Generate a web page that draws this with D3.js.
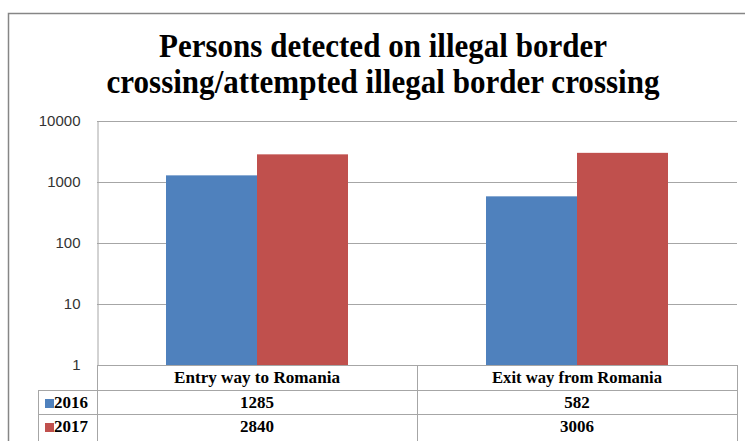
<!DOCTYPE html>
<html>
<head>
<meta charset="utf-8">
<script src="https://cdn.jsdelivr.net/npm/d3@7"></script>
<style>
    body { margin: 0; background: #fff; }
    svg { display: block; }
</style>
</head>
<body>
<div id="chart"></div>
<script>
// chart data
const titleLines = ["Persons detected on illegal border", "crossing/attempted illegal border crossing"];
const categories = ["Entry way to Romania", "Exit way from Romania"];
const seriesNames = ["2016", "2017"];
const values2016 = [1285, 582];
const values2017 = [2840, 3006];
const yTicks = [1, 10, 100, 1000, 10000];

const colors = { "2016": "#4F81BD", "2017": "#C0504D" };
const series = [
    { name: seriesNames[0], values: values2016 },
    { name: seriesNames[1], values: values2017 }
];

const width = 745, height = 441;
const plot = { left: 97, right: 737, top: 121, bottom: 365 };
const rowH = [25, 24, 27]; // header row, 2016 row, 2017 row
const tableLeft = 38;
const gridColor = "#A6A6A6";
const serifFont = "Liberation Serif";

const svg = d3.select("#chart").append("svg")
    .attr("width", width)
    .attr("height", height);

// outer chart frame (runs off the right/bottom edge)
svg.append("rect")
    .attr("x", 8.5).attr("y", 13.5)
    .attr("width", 760).attr("height", 460)
    .attr("fill", "#fff")
    .attr("stroke", "#868686")
    .attr("stroke-width", 1.5);

// title
const titleWidths = [448, 553];
svg.selectAll("text.title")
    .data(titleLines)
    .enter()
    .append("text")
    .attr("class", "title")
    .attr("x", 383)
    .attr("y", (d, i) => 57 + i * 36)
    .attr("text-anchor", "middle")
    .style("font-family", serifFont)
    .style("font-weight", "bold")
    .style("font-size", "34px")
    .attr("textLength", (d, i) => titleWidths[i])
    .attr("lengthAdjust", "spacingAndGlyphs")
    .attr("fill", "#000")
    .text(d => d);

// scales
const y = d3.scaleLog()
    .domain([1, 10000])
    .range([plot.bottom, plot.top]);

const pad = 138 / 320;
const x0 = d3.scaleBand()
    .domain(categories)
    .range([plot.left, plot.right])
    .paddingInner(pad)
    .paddingOuter(pad / 2);

const x1 = d3.scaleBand()
    .domain(seriesNames)
    .range([0, x0.bandwidth()]);

// gridlines
svg.append("g")
    .selectAll("line")
    .data(yTicks.slice(1))
    .enter()
    .append("line")
    .attr("x1", plot.left)
    .attr("x2", plot.right)
    .attr("y1", d => Math.round(y(d)) + 0.5)
    .attr("y2", d => Math.round(y(d)) + 0.5)
    .attr("stroke", gridColor)
    .attr("stroke-width", 1);

// y axis
const yAxis = svg.append("g")
    .attr("transform", `translate(${plot.left + 0.5},0)`)
    .call(d3.axisLeft(y).tickValues(yTicks).tickFormat(d3.format("d")).tickSize(0).tickPadding(17));
yAxis.select(".domain").attr("stroke", gridColor);
yAxis.selectAll("text")
    .style("font-family", "Liberation Sans")
    .style("font-size", "15px")
    .attr("fill", "#333");

// bars
const groups = svg.append("g")
    .selectAll("g")
    .data(categories)
    .enter()
    .append("g")
    .attr("transform", d => `translate(${x0(d)},0)`);

groups.selectAll("rect")
    .data((d, ci) => series.map(s => ({ name: s.name, value: s.values[ci] })))
    .enter()
    .append("rect")
    .attr("x", d => x1(d.name))
    .attr("width", x1.bandwidth())
    .attr("y", d => y(d.value))
    .attr("height", d => y(1) - y(d.value))
    .attr("fill", d => colors[d.name]);

// data table
const table = svg.append("g");
const yRow0 = plot.bottom;
const yRow1 = yRow0 + rowH[0];
const yRow2 = yRow1 + rowH[1];
const yRow3 = yRow2 + rowH[2];
const hLine = (x1p, x2p, yy) => table.append("line")
    .attr("x1", x1p).attr("x2", x2p)
    .attr("y1", yy + 0.5).attr("y2", yy + 0.5)
    .attr("stroke", gridColor);
const vLine = (xx, y1p, y2p) => table.append("line")
    .attr("x1", xx + 0.5).attr("x2", xx + 0.5)
    .attr("y1", y1p).attr("y2", y2p)
    .attr("stroke", gridColor);

hLine(plot.left, plot.right, yRow0);
hLine(tableLeft, plot.right, yRow1);
hLine(tableLeft, plot.right, yRow2);
hLine(tableLeft, plot.right, yRow3);
vLine(plot.left, yRow0, yRow3 + 5);
vLine(tableLeft, yRow1, yRow3 + 5);
vLine(plot.right, yRow0, yRow3 + 5);
const mid = plot.left + (plot.right - plot.left) / 2;
vLine(mid, yRow0, yRow3 + 5);

const serifBold = (sel) => sel
    .style("font-family", serifFont)
    .style("font-weight", "bold")
    .style("font-size", "17px")
    .attr("fill", "#000");

// category headers (condensed like the source)
const catWidths = [166, 170];
table.selectAll("text.cat")
    .data(categories)
    .enter()
    .append("text")
    .attr("class", "cat")
    .attr("x", d => x0(d) + x0.bandwidth() / 2)
    .attr("y", yRow0 + 18)
    .attr("text-anchor", "middle")
    .attr("textLength", (d, i) => catWidths[i])
    .attr("lengthAdjust", "spacingAndGlyphs")
    .call(serifBold)
    .text(d => d);

// value rows
const rowTops = [yRow1, yRow2];
series.forEach((s, si) => {
    const base = rowTops[si] + 18;
    table.append("rect")
        .attr("x", 45).attr("y", base - 9)
        .attr("width", 9).attr("height", 9)
        .attr("fill", colors[s.name]);
    table.append("text")
        .attr("x", 54)
        .attr("y", base)
        .call(serifBold)
        .text(s.name);
    table.selectAll(null)
        .data(s.values)
        .enter()
        .append("text")
        .attr("x", (d, i) => x0(categories[i]) + x0.bandwidth() / 2)
        .attr("y", base)
        .attr("text-anchor", "middle")
        .call(serifBold)
        .text(d => d);
});
</script>
</body>
</html>
